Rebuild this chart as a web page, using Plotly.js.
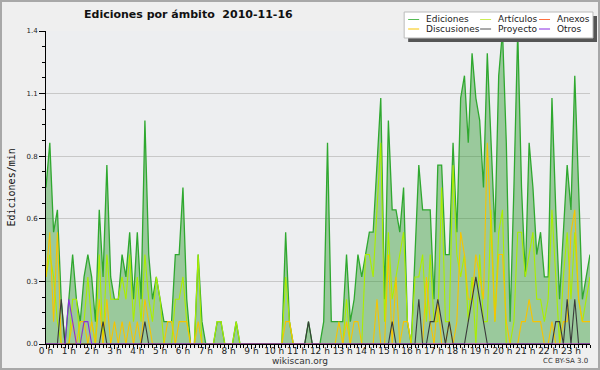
<!DOCTYPE html>
<html>
<head>
<meta charset="utf-8">
<script src="https://cdn.plot.ly/plotly-3.0.1.min.js"></script>
<style>
html,body{margin:0;padding:0;background:#efefef;}
#frame{width:596px;height:366px;border:2px solid #a8a8a8;}
</style>
</head>
<body>
<div id="frame"><div id="chart"></div></div>
<script>
// ---- data: edits per minute, one value every 10 minutes (00:00 .. 23:50) ----
const ediciones = [
0.7,0.9,0.5,0.6,0.2,0.0,0.2,0.4,0.2,0.1,0.3,0.4,0.3,0.1,0.6,0.3,0.8,0.3,0.2,0.2,0.4,0.3,0.5,0.2,
0.5,0.2,1.0,0.4,0.2,0.3,0.2,0.1,0.1,0.1,0.4,0.4,0.7,0.2,0.0,0.0,0.4,0.1,0.0,0.0,0.0,0.1,0.1,0.0,
0.0,0.0,0.1,0.0,0.0,0.0,0.0,0.0,0.0,0.0,0.0,0.0,0.0,0.0,0.0,0.5,0.1,0.0,0.0,0.0,0.0,0.1,0.0,0.0,
0.0,0.1,0.9,0.1,0.1,0.1,0.1,0.4,0.1,0.2,0.4,0.3,0.4,0.5,0.5,0.8,1.1,0.2,1.0,0.6,0.6,0.5,0.7,0.1,
0.0,0.4,0.8,0.6,0.6,0.6,0.2,0.8,0.8,0.4,0.4,0.9,0.5,1.1,1.2,0.9,1.3,1.1,1.0,0.7,1.3,0.9,0.5,1.2,
1.4,0.9,0.1,0.7,1.4,0.7,0.3,0.9,0.7,0.4,0.5,0.3,0.3,1.1,0.6,0.2,0.5,0.8,0.6,1.2,0.7,0.2,0.3,0.4];
const articulos = [
0.3,0.4,0.3,0.1,0.0,0.0,0.0,0.2,0.2,0.0,0.1,0.3,0.1,0.0,0.4,0.0,0.4,0.2,0.2,0.2,0.3,0.2,0.4,0.1,
0.3,0.1,0.4,0.2,0.1,0.3,0.2,0.0,0.0,0.0,0.2,0.2,0.3,0.1,0.0,0.0,0.4,0.0,0.0,0.0,0.0,0.1,0.1,0.0,
0.0,0.0,0.1,0.0,0.0,0.0,0.0,0.0,0.0,0.0,0.0,0.0,0.0,0.0,0.0,0.3,0.1,0.0,0.0,0.0,0.0,0.0,0.0,0.0,
0.0,0.0,0.0,0.0,0.0,0.0,0.0,0.2,0.0,0.0,0.0,0.0,0.4,0.4,0.3,0.6,0.9,0.1,0.5,0.2,0.3,0.4,0.5,0.1,
0.0,0.3,0.3,0.4,0.1,0.4,0.1,0.1,0.7,0.1,0.1,0.8,0.4,0.3,0.4,0.1,0.3,0.0,0.4,0.1,0.1,0.6,0.1,0.5,
0.6,0.0,0.0,0.1,0.5,0.5,0.3,0.4,0.5,0.2,0.2,0.1,0.2,0.6,0.3,0.0,0.3,0.5,0.2,0.5,0.2,0.1,0.2,0.3];
const anexos = new Array(144).fill(0);
const discusiones = [
0.3,0.5,0.1,0.5,0.0,0.0,0.0,0.1,0.0,0.1,0.1,0.0,0.1,0.0,0.2,0.0,0.2,0.0,0.1,0.0,0.1,0.0,0.1,0.0,
0.1,0.0,0.2,0.1,0.0,0.0,0.0,0.0,0.1,0.1,0.0,0.1,0.1,0.1,0.0,0.0,0.1,0.0,0.0,0.0,0.0,0.0,0.0,0.0,
0.0,0.0,0.0,0.0,0.0,0.0,0.0,0.0,0.0,0.0,0.0,0.0,0.0,0.0,0.0,0.1,0.1,0.0,0.0,0.0,0.0,0.0,0.0,0.0,
0.0,0.0,0.0,0.0,0.0,0.1,0.0,0.1,0.0,0.1,0.1,0.0,0.0,0.0,0.0,0.2,0.0,0.0,0.4,0.0,0.3,0.0,0.1,0.1,
0.0,0.0,0.0,0.0,0.3,0.1,0.0,0.2,0.0,0.0,0.1,0.0,0.1,0.5,0.4,0.2,0.2,0.4,0.3,0.2,0.9,0.5,0.1,0.4,
0.4,0.1,0.0,0.0,0.0,0.1,0.1,0.2,0.1,0.1,0.1,0.0,0.0,0.1,0.0,0.0,0.1,0.1,0.5,0.6,0.2,0.1,0.1,0.1];
const proyecto = [
0.0,0.0,0.0,0.0,0.2,0.0,0.0,0.0,0.0,0.0,0.0,0.0,0.0,0.0,0.0,0.1,0.0,0.0,0.0,0.0,0.0,0.0,0.0,0.0,
0.0,0.0,0.1,0.0,0.0,0.0,0.0,0.0,0.0,0.0,0.0,0.0,0.0,0.0,0.0,0.0,0.0,0.0,0.0,0.0,0.0,0.0,0.0,0.0,
0.0,0.0,0.0,0.0,0.0,0.0,0.0,0.0,0.0,0.0,0.0,0.0,0.0,0.0,0.0,0.0,0.0,0.0,0.0,0.0,0.0,0.1,0.0,0.0,
0.0,0.0,0.0,0.0,0.0,0.0,0.0,0.0,0.0,0.0,0.0,0.0,0.0,0.0,0.0,0.0,0.0,0.0,0.0,0.1,0.0,0.0,0.0,0.0,
0.0,0.0,0.2,0.0,0.0,0.1,0.1,0.2,0.1,0.0,0.1,0.0,0.0,0.0,0.0,0.1,0.2,0.3,0.2,0.1,0.0,0.0,0.0,0.0,
0.0,0.0,0.0,0.0,0.0,0.0,0.0,0.0,0.0,0.0,0.0,0.0,0.0,0.0,0.1,0.1,0.0,0.2,0.0,0.2,0.0,0.0,0.0,0.0];
const otros = [
0.0,0.0,0.0,0.0,0.0,0.0,0.2,0.1,0.0,0.0,0.1,0.1,0.0,0.0,0.0,0.0,0.0,0.0,0.0,0.0,0.0,0.0,0.0,0.0];
while (otros.length < 144) otros.push(0);

const hourLabels = Array.from({length:24}, (_, h) => h + ' h');
const yTickVals = [0, 0.28, 0.56, 0.84, 1.12, 1.4];
const yTickText = ['0.0','0.3','0.6','0.8','1.1','1.4'];
const titleText = 'Ediciones por ámbito  2010-11-16';

// ---- x positions: hour of each 10-minute slot ----
const hours = ediciones.map((_, i) => i / 6);

const L = 43.5, T = 29, W = 544.5, H = 313;
const px = x => (x - 2 - L) / W;
const py = y => (T + H - (y - 2)) / H;

const FONT = 'DejaVu Sans, sans-serif';

function line(name, y, color, width) {
  return {type:'scatter', mode:'lines', name, x:hours, y,
          line:{color, width, shape:'linear'}, hoverinfo:'skip', showlegend:false};
}

const traces = [
  Object.assign(line('Ediciones', ediciones, '#2fa82f', 1.3),
                {fill:'tozeroy', fillcolor:'rgba(40,150,40,0.42)'}),
  line('Artículos', articulos, '#aaee00', 1.1),
  line('Discusiones', discusiones, '#f7c400', 1.1),
  line('Anexos', anexos, '#ff7040', 1),
  line('Proyecto', proyecto, '#3a3a3a', 1.1),
  line('Otros', otros, '#8a2be2', 1.1)
];

// manual legend (3 columns x 2 rows)
const legendItems = [
  ['Ediciones', '#55bb55', 0, 0], ['Artículos', '#ccee55', 1, 0], ['Anexos', '#ff7040', 2, 0],
  ['Discusiones', '#f7c400', 0, 1], ['Proyecto', '#555555', 1, 1], ['Otros', '#8a2be2', 2, 1]
];
const colX = [408, 480, 539];
const rowY = [19.5, 29];

const shapes = [
  {type:'rect', xref:'paper', yref:'paper', x0:px(408), x1:px(597), y0:py(42), y1:py(16),
   fillcolor:'#555555', line:{width:0}, layer:'above'},
  {type:'rect', xref:'paper', yref:'paper', x0:px(404), x1:px(593), y0:py(38), y1:py(12),
   fillcolor:'#ffffff', line:{color:'#bbbbbb', width:1}, layer:'above'}
];
const annotations = [
  {text:titleText, xref:'paper', yref:'paper', x:px(188), y:py(14), xanchor:'center', yanchor:'middle',
   showarrow:false, font:{family:FONT, size:11, color:'#111', weight:'bold'}},
  {text:'Ediciones/min', xref:'paper', yref:'paper', x:px(10), y:py(188), textangle:-90,
   xanchor:'center', yanchor:'middle', showarrow:false,
   font:{family:'DejaVu Sans Mono, monospace', size:10, color:'#111'}},
  {text:'wikiscan.org', xref:'paper', yref:'paper', x:px(300), y:py(361), xanchor:'center', yanchor:'middle',
   showarrow:false, font:{family:FONT, size:9, color:'#333'}},
  {text:'CC BY-SA 3.0', xref:'paper', yref:'paper', x:px(590), y:py(361), xanchor:'right', yanchor:'middle',
   showarrow:false, font:{family:FONT, size:7, color:'#333'}}
];
legendItems.forEach(([name, color, c, r]) => {
  shapes.push({type:'line', xref:'paper', yref:'paper', x0:px(colX[c]), x1:px(colX[c] + 11),
               y0:py(rowY[r]), y1:py(rowY[r]), line:{color, width:1}, layer:'above'});
  annotations.push({text:name, xref:'paper', yref:'paper', x:px(colX[c] + 16), y:py(rowY[r]),
                    xanchor:'left', yanchor:'middle', showarrow:false,
                    font:{family:FONT, size:9, color:'#222'}});
});

const layout = {
  width:596, height:366,
  margin:{l:L, r:596 - L - W, t:T, b:366 - T - H, pad:0},
  paper_bgcolor:'#efefef', plot_bgcolor:'#edeef0',
  showlegend:false,
  xaxis:{range:[0, 143/6], tickmode:'array', tickvals:hourLabels.map((_, h) => h), ticktext:hourLabels,
         ticks:'outside', ticklen:4, tickcolor:'#000', tickwidth:1, ticklabelstandoff:-6,
         showline:true, linecolor:'#000', linewidth:1, showgrid:false, zeroline:false,
         tickfont:{family:FONT, size:9, color:'#222'},
         minor:{tickmode:'linear', tick0:0, dtick:1/6, ticks:'outside', ticklen:3, tickcolor:'#000', showgrid:false}},
  yaxis:{range:[0, 1.4], tickmode:'array', tickvals:yTickVals, ticktext:yTickText,
         ticks:'outside', ticklen:6, tickcolor:'#000', tickwidth:1,
         showline:true, linecolor:'#000', linewidth:1, zeroline:false,
         showgrid:true, gridcolor:'#c8c8c8', gridwidth:1,
         tickfont:{family:FONT, size:7, color:'#222'},
         minor:{tickmode:'linear', tick0:0, dtick:0.07, ticks:'outside', ticklen:3, tickcolor:'#000', showgrid:false}},
  shapes, annotations
};

Plotly.newPlot('chart', traces, layout, {staticPlot:true, displayModeBar:false});
</script>
</body>
</html>
